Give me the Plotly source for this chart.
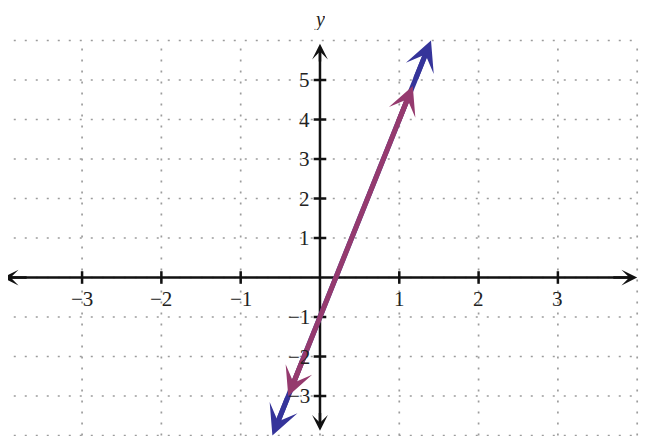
import plotly.graph_objects as go

# ---- data ----
x_ticks = [-3, -2, -1, 1, 2, 3]
y_ticks = [-3, -2, -1, 1, 2, 3, 4, 5]
x_tick_labels = ["−3", "−2", "−1", "1", "2", "3"]
y_tick_labels = ["−3", "−2", "−1", "1", "2", "3", "4", "5"]
grid_x = [-4, -3, -2, -1, 0, 1, 2, 3, 4]
grid_y = [-4, -3, -2, -1, 0, 1, 2, 3, 4, 5, 6]

slope = 5
intercept = -1
blue_x = [-0.6, 1.4]        # line y = 5x - 1 (blue)
magenta_x = [-0.4, 1.17]    # line y = 5x - 1 (magenta)
x_axis_ends = [-4.0, 4.0]
y_axis_ends = [-3.88, 5.92]

BLUE = "#35349a"
MAGENTA = "#953a6e"
GRID = "#9c9c9c"
FONT = "Liberation Serif, Times New Roman, DejaVu Serif, serif"

fig = go.Figure()

# grid (dotted)
gx, gy = [], []
for v in grid_x:
    gx += [v, v, None]
    gy += [grid_y[0], grid_y[-1], None]
for h in grid_y:
    gx += [grid_x[0], grid_x[-1], None]
    gy += [h, h, None]
fig.add_trace(go.Scatter(x=gx, y=gy, mode="lines",
                         line=dict(color=GRID, width=1.7, dash="2px,9px"),
                         hoverinfo="skip", showlegend=False))

annotations = []


def arrow_line(x0, y0, x1, y1, color, width, size, line_inset, tail_inset):
    """Line from (x0,y0) to (x1,y1) with arrowheads at both ends."""
    fx = lambda t: x0 + (x1 - x0) * t
    fy = lambda t: y0 + (y1 - y0) * t
    t0, t1 = line_inset, 1 - line_inset
    fig.add_trace(go.Scatter(x=[fx(t0), fx(t1)], y=[fy(t0), fy(t1)], mode="lines",
                             line=dict(color=color, width=width),
                             hoverinfo="skip", showlegend=False))
    for tip_t, tail_t in ((0, tail_inset), (1, 1 - tail_inset)):
        annotations.append(dict(
            x=fx(tip_t), y=fy(tip_t), ax=fx(tail_t), ay=fy(tail_t),
            xref="x", yref="y", axref="x", ayref="y", text="",
            showarrow=True, arrowhead=3, arrowsize=size, arrowwidth=width,
            arrowcolor=color))


# axes
arrow_line(x_axis_ends[0], 0, x_axis_ends[1], 0, "#111111", 2.5, 1.05, 0.008, 0.04)
arrow_line(0, y_axis_ends[0], 0, y_axis_ends[1], "#111111", 2.5, 1.05, 0.013, 0.05)

# tick marks
fig.add_trace(go.Scatter(x=x_ticks, y=[0] * len(x_ticks), mode="markers",
                         marker=dict(symbol="line-ns", size=9,
                                     line=dict(color="#111111", width=2.5)),
                         hoverinfo="skip", showlegend=False))
fig.add_trace(go.Scatter(x=[0] * len(y_ticks), y=y_ticks, mode="markers",
                         marker=dict(symbol="line-ew", size=9,
                                     line=dict(color="#111111", width=2.5)),
                         hoverinfo="skip", showlegend=False))

# the two lines
arrow_line(blue_x[0], slope * blue_x[0] + intercept,
           blue_x[1], slope * blue_x[1] + intercept, BLUE, 5, 1.0, 0.024, 0.1)
arrow_line(magenta_x[0], slope * magenta_x[0] + intercept,
           magenta_x[1], slope * magenta_x[1] + intercept, MAGENTA, 5, 0.95, 0.03, 0.12)

# tick labels
for v, t in zip(x_ticks, x_tick_labels):
    annotations.append(dict(x=v, y=0, xref="x", yref="y", text=t, showarrow=False,
                            yshift=-21, xanchor="center", yanchor="middle",
                            font=dict(family=FONT, size=21, color="#222222")))
for v, t in zip(y_ticks, y_tick_labels):
    annotations.append(dict(x=0, y=v, xref="x", yref="y", text=t, showarrow=False,
                            xshift=-8, xanchor="right", yanchor="middle",
                            font=dict(family=FONT, size=21, color="#222222")))
annotations.append(dict(x=0, y=6.53, xref="x", yref="y", text="<i>y</i>",
                        showarrow=False, xanchor="center", yanchor="middle",
                        height=21, font=dict(family=FONT, size=20, color="#222222")))

fig.update_layout(
    width=651, height=436,
    margin=dict(l=0, r=0, t=0, b=0),
    paper_bgcolor="white", plot_bgcolor="white",
    xaxis=dict(range=[-3.934, 4.275], visible=False, fixedrange=True),
    yaxis=dict(range=[-4.215, 6.823], visible=False, fixedrange=True),
    annotations=annotations,
    showlegend=False,
)

fig.write_html("out.html")
